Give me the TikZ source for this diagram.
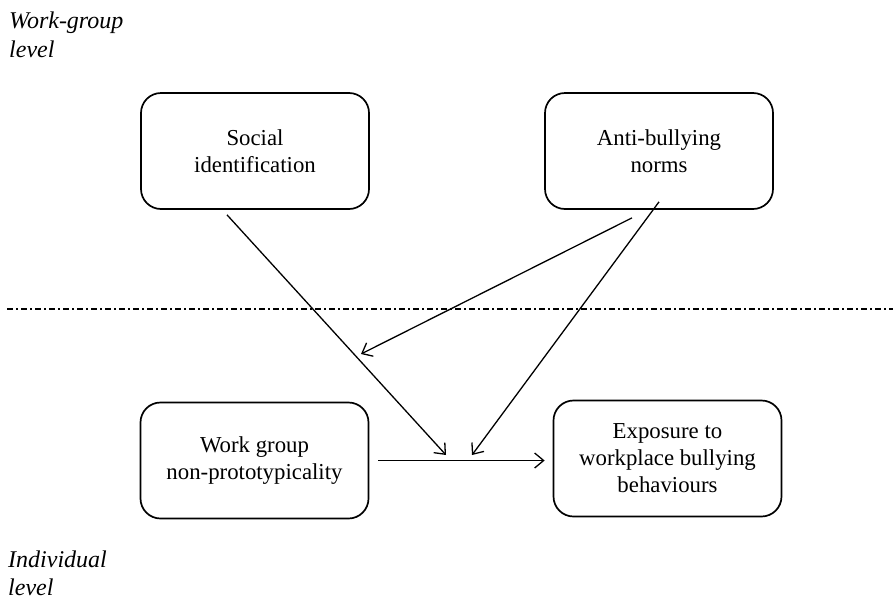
\documentclass[tikz,border=0pt]{standalone}
\usepackage{fontspec}
\setmainfont{Liberation Serif}
\usetikzlibrary{arrows.meta,calc}
\begin{document}
\begin{tikzpicture}[x=1pt,y=-1pt,
  box/.style={draw,line width=1.7pt,rounded corners=20pt,minimum width=228pt,minimum height=116pt,
    align=center,inner sep=0pt,font=\fontsize{22.8}{27}\selectfont},
  lvl/.style={anchor=base west,align=left,inner sep=0pt,font=\fontsize{24}{29}\selectfont\itshape},
  arr/.style={line width=1.3pt,-{Straight Barb[length=9pt,width=15pt,line width=1.3pt]}},
  sep/.style={line width=1.2pt,dash pattern=on 6pt off 3pt on 2pt off 3pt}]
\useasboundingbox (0,0) rectangle (893,600);
\node[box] (soc) at (255,151) {Social\\identification};
\node[box] (anti) at (659,151) {Anti-bullying\\norms};
\node[box] (wg) at (254.5,460.5) {Work group\\non-prototypicality};
\node[box] (exp) at (667.5,458.5) {Exposure to\\workplace bullying\\behaviours};
\node[lvl] (wgl) at (9,28) {Work-group};
\node[lvl] (wgl2) at (9,57) {level};
\node[lvl] (ind) at (8,567) {Individual};
\node[lvl] (ind2) at (8,595) {level};
\coordinate (sepL) at (7,309);
\coordinate (sepR) at (893,309);
\draw[sep] (sepL) -- (sepR);
\coordinate (m1) at (446,455);
\coordinate (m2) at (472,455);
\coordinate (m3) at (361,354);
\draw[arr] ([shift={(-28,5)}]soc.south) -- (m1);
\draw[arr] ([shift={(-27,8)}]anti.south) -- (m3);
\draw[arr] ([yshift=8]anti.south) -- (m2);
\draw[arr] ([xshift=9]wg.east) -- ([xshift=-8]exp.west |- wg.east);
\end{tikzpicture}
\end{document}
